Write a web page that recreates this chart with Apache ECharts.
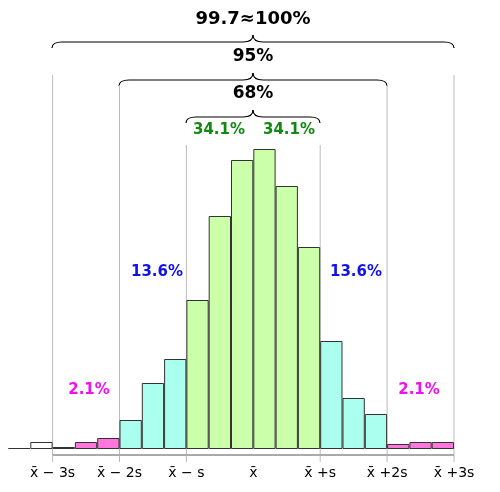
<!DOCTYPE html>
<html><head><meta charset="utf-8">
<script src="https://cdn.jsdelivr.net/npm/echarts@6/dist/echarts.min.js"></script>
<style>html,body{margin:0;padding:0;background:#fff}#chart{width:500px;height:492px}</style>
</head><body><div id="chart"></div>
<script>
const chart = echarts.init(document.getElementById('chart'));

// bar heights (px-scale units), 20 bins of width s/3 from mean-3.67s to mean+3s
const heights = [1, 7, 2, 7, 11, 29, 66, 90, 149, 233, 289, 300, 263, 202, 108, 51, 35, 5, 7, 7];
const zones = ['gray', 'white', 'tail', 'tail', 'tail', 'mid', 'mid', 'mid', 'core', 'core', 'core', 'core', 'core', 'core', 'mid', 'mid', 'mid', 'tail', 'tail', 'tail'];
const zoneColors = { gray: '#cccccc', white: '#ffffff', tail: '#ff77dd', mid: '#aaffee', core: '#ccffaa' };
// sigma lines: [bin boundary, top value]
const sigmaLines = [[2, 374], [5, 364], [8, 304], [14, 304], [17, 364], [20, 374]];
const tickLabels = { 2: 'x̄ − 3s', 5: 'x̄ − 2s', 8: 'x̄ − s', 11: 'x̄', 14: 'x̄ +s', 17: 'x̄ +2s', 20: 'x̄ +3s' };
const shares = [
  { text: '34.1%', x: 219, y: 130, color: '#118811' },
  { text: '34.1%', x: 289, y: 130, color: '#118811' },
  { text: '13.6%', x: 157, y: 272, color: '#1111ee' },
  { text: '13.6%', x: 356, y: 272, color: '#1111ee' },
  { text: '2.1%', x: 89, y: 390, color: '#ee11ee' },
  { text: '2.1%', x: 419, y: 390, color: '#ee11ee' }
];
const braces = [
  { x1: 52, x2: 454, y: 42, label: '99.7≈100%', ly: 19, size: 18 },
  { x1: 119, x2: 387, y: 80, label: '95%', ly: 57, size: 17 },
  { x1: 186, x2: 320, y: 117, label: '68%', ly: 94, size: 17 }
];

const stroke = { stroke: '#000', lineWidth: 1.2, fill: 'none' };
function curve(x1, y1, cx, cy, x2, y2) {
  return { type: 'bezierCurve', shape: { x1, y1, x2, y2, cpx1: cx, cpy1: cy }, style: stroke };
}
function line(x1, y1, x2, y2) {
  return { type: 'line', shape: { x1, y1, x2, y2 }, style: stroke };
}

const graphics = [];
for (const b of braces) {
  const c = (b.x1 + b.x2) / 2, y = b.y;
  graphics.push(
    curve(b.x1, y + 6, b.x1, y, b.x1 + 10, y),
    line(b.x1 + 10, y, c - 10, y),
    curve(c - 10, y, c, y, c, y - 7),
    curve(c, y - 7, c, y, c + 10, y),
    line(c + 10, y, b.x2 - 10, y),
    curve(b.x2 - 10, y, b.x2, y, b.x2, y + 6)
  );
  graphics.push({ type: 'text', x: c, y: b.ly, style: { text: b.label, fill: '#000', font: `bold ${b.size}px DejaVu Sans`, align: 'center', verticalAlign: 'middle' } });
}
for (const s of shares) {
  graphics.push({ type: 'text', x: s.x, y: s.y, style: { text: s.text, fill: s.color, font: 'bold 15px DejaVu Sans', align: 'center', verticalAlign: 'middle' } });
}

const lineSeries = sigmaLines.map(([x, top]) => ({
  type: 'line', xAxisIndex: 1, data: [[x, -13], [x, top]], symbol: 'none', silent: true,
  lineStyle: { color: '#bbbbbb', width: 1 }, z: 1
}));

chart.setOption({
  animation: false,
  grid: { left: 8, right: 46, top: 0, bottom: 30 },
  xAxis: [
    { type: 'category', data: heights.map((_, i) => i), show: false },
    {
      type: 'value', min: 0, max: 20, interval: 1, position: 'bottom',
      axisLine: { show: false }, axisTick: { show: false }, splitLine: { show: false },
      axisLabel: { margin: 4, color: '#000', fontSize: 14, fontFamily: 'DejaVu Sans', formatter: (v) => tickLabels[v] || '' }
    }
  ],
  yAxis: { type: 'value', min: -13, max: 449, show: false },
  graphic: graphics,
  series: [
    {
      type: 'bar', barCategoryGap: 0, z: 3,
      data: heights.map((h, i) => ({ value: h, itemStyle: { color: zoneColors[zones[i]] } })),
      itemStyle: { borderColor: '#333', borderWidth: 1 }
    },
    ...lineSeries,
    {
      type: 'line', xAxisIndex: 1, data: [[2, -6], [20, -6]], symbol: 'none', silent: true,
      lineStyle: { color: '#aaaaaa', width: 2 }, z: 2
    }
  ]
});
</script></body></html>
